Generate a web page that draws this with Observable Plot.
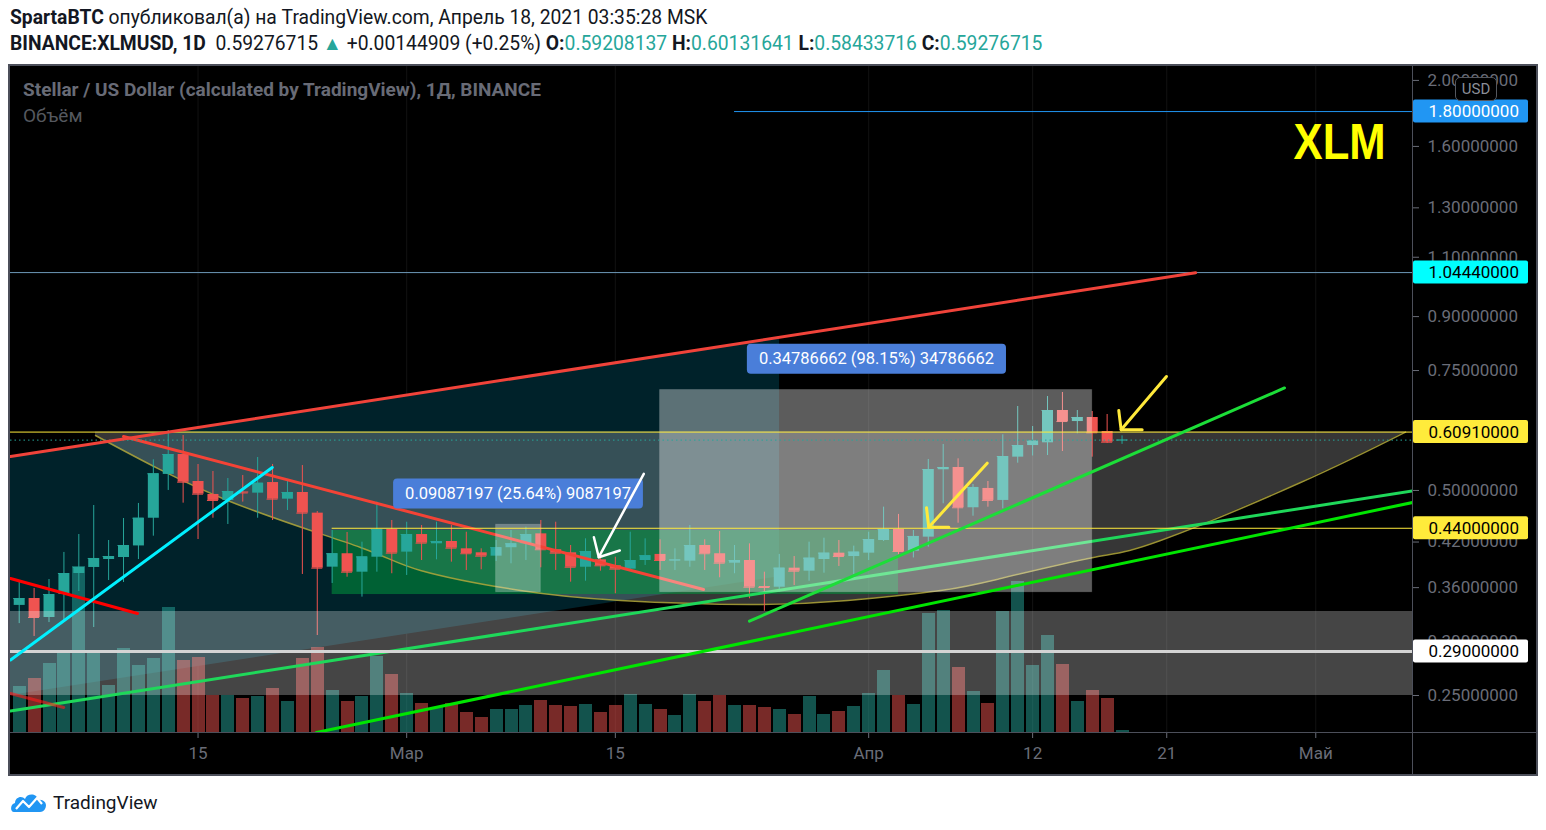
<!DOCTYPE html>
<html lang="ru">
<head>
<meta charset="utf-8">
<title>XLMUSD</title>
<script src="https://cdn.jsdelivr.net/npm/d3@7"></script>
<script src="https://cdn.jsdelivr.net/npm/@observablehq/plot@0.6"></script>
<style>
html,body{margin:0;padding:0;background:#fff;}
body{width:1546px;height:830px;position:relative;overflow:hidden;font-family:Roboto,"Open Sans",sans-serif;color:#131722;}
.hdr{position:absolute;left:10px;font-size:19.3px;white-space:nowrap;line-height:22px;}
#hdr1{top:7px}
#hdr2{top:33px}
.up{color:#26a69a}
#chart{position:absolute;left:8px;top:64px;width:1526px;height:708px;border:2px solid #4c4f5a;background:#000;overflow:hidden}
#chart svg{position:absolute;left:0;top:0;background:transparent !important;font-family:Roboto,sans-serif}
.ov{position:absolute;white-space:nowrap}
#ttl{left:13px;top:12px;font-size:19px;font-weight:bold;color:#686b76}
#volt{left:13px;top:38px;font-size:19px;color:#55585f}
#usd{left:1445px;top:11px;width:40px;height:22px;border:1px solid #55585f;border-radius:5px;background:#000;color:#8b8e98;font-size:15px;text-align:center;line-height:22px}
#vsep{left:1402px;top:0;width:1px;height:708px;background:#4c4f5a}
#hsep{left:0;top:666px;width:1526px;height:1px;background:#4c4f5a}
#foot{position:absolute;left:10px;top:790px;display:flex;align-items:center;gap:5px;font-size:19px;color:#131722}
</style>
</head>
<body>
<div class="hdr" id="hdr1"><b>SpartaBTC</b> опубликовал(а) на TradingView.com, Апрель 18, 2021 03:35:28 MSK</div>
<div class="hdr" id="hdr2"></div>
<div id="chart"></div>
<div id="foot">
  <svg width="38" height="24" viewBox="0 0 38 24"><path d="M4 22 C0 22 0 14 5 13 C5 7 12 5 15 9 C17 3 27 3 28 10 C34 9 38 14 35 19 C34 21 32 22 30 22 Z" fill="#2196f3"/><polyline points="6,19 13,11 19,17 27,8 32,14" fill="none" stroke="#fff" stroke-width="2.2" stroke-linejoin="round"/></svg>
  <span>TradingView</span>
</div>
<script>
// ---------- header values ----------
const symbolName = "BINANCE:XLMUSD, 1D";
const lastPrice = "0.59276715";
const change = "+0.00144909 (+0.25%)";
const ohlcHeader = [["O", "0.59208137"], ["H", "0.60131641"], ["L", "0.58433716"], ["C", "0.59276715"]];

// ---------- daily candles, first candle = 2021-02-03 ----------
const opens = [0.339,0.347,0.3254,0.3517,0.3776,0.3854,0.3959,0.3986,0.4145,0.4552,
  0.5279,0.5646,0.5154,0.4933,0.4834,0.4975,0.4955,0.5136,0.4855,0.4966,
  0.4631,0.3858,0.4037,0.3793,0.3990,0.4382,0.4059,0.4308,0.4175,0.4208,
  0.4105,0.4050,0.4004,0.4120,0.4175,0.4318,0.4092,0.4050,0.3857,0.3955,
  0.3876,0.3832,0.3946,0.4028,0.3940,0.3937,0.4151,0.4037,0.3910,0.3946,
  0.3614,0.3605,0.3845,0.3806,0.3959,0.4045,0.3999,0.4045,0.4222,0.4382,
  0.4072,0.4270,0.5362,0.5404,0.4716,0.5034,0.4834,0.5596,0.5820,0.5874,
  0.6552,0.6312,0.6399,0.6103,0.59208];
const highs = [0.3663,0.3589,0.3700,0.4055,0.4308,0.4752,0.4222,0.4548,0.4785,0.5546,
  0.6124,0.6021,0.5459,0.5331,0.5206,0.5259,0.5589,0.5459,0.5171,0.5440,
  0.4657,0.4367,0.4338,0.4198,0.4807,0.4517,0.4491,0.4441,0.4491,0.4441,
  0.4342,0.4105,0.4222,0.4367,0.4416,0.4517,0.4491,0.4151,0.4246,0.4059,
  0.3990,0.4342,0.4246,0.4232,0.4105,0.4441,0.4232,0.4352,0.4151,0.4174,
  0.3793,0.4028,0.3999,0.4198,0.4255,0.4222,0.4142,0.4342,0.4726,0.4611,
  0.4367,0.5552,0.5841,0.5565,0.5102,0.5154,0.6036,0.6641,0.6207,0.6869,
  0.6963,0.6552,0.6530,0.6464,0.60132];
const lows = [0.3188,0.3052,0.3199,0.3221,0.3553,0.3146,0.3688,0.3663,0.3959,0.4284,
  0.5000,0.4790,0.4236,0.4552,0.4457,0.4807,0.4552,0.4517,0.4673,0.3764,
  0.3062,0.3651,0.3729,0.3486,0.3793,0.3773,0.3751,0.3946,0.3955,0.3924,
  0.3815,0.3824,0.3933,0.3902,0.3946,0.3850,0.3815,0.3667,0.3679,0.3806,
  0.3526,0.3815,0.3880,0.3815,0.3815,0.3857,0.3815,0.3722,0.3773,0.3467,
  0.3324,0.3545,0.3626,0.3679,0.3780,0.3867,0.3764,0.3946,0.4208,0.4023,
  0.3980,0.4128,0.4780,0.4476,0.4583,0.4725,0.4700,0.5483,0.5618,0.5627,
  0.5704,0.6056,0.5596,0.5861,0.58434];
const closes = [0.3470,0.3254,0.3517,0.3776,0.3854,0.3973,0.3999,0.4151,0.4552,0.5290,
  0.5646,0.5142,0.4938,0.4834,0.4983,0.4958,0.5124,0.4855,0.4966,0.4631,
  0.3845,0.4037,0.3793,0.3994,0.4382,0.4045,0.4308,0.4184,0.4208,0.4114,
  0.4037,0.4004,0.4120,0.4175,0.4308,0.4092,0.4045,0.3857,0.4068,0.3876,
  0.3832,0.3946,0.4010,0.3946,0.3953,0.4151,0.4037,0.3910,0.3946,0.3605,
  0.3602,0.3845,0.3806,0.3977,0.4045,0.3999,0.4059,0.4236,0.4382,0.4068,
  0.4280,0.5367,0.5404,0.4716,0.5051,0.4834,0.5608,0.5820,0.5908,0.6552,
  0.6312,0.6399,0.6076,0.5886,0.59277];
// volume, relative units
const volumes = [46,54,69,79,166,81,47,84,67,74,
  125,72,75,37,37,34,36,44,31,74,
  85,42,31,36,76,58,39,29,25,29,
  20,15,23,23,27,32,27,26,28,20,
  27,38,28,23,17,38,31,37,27,27,
  25,23,18,36,18,21,26,39,62,37,
  28,119,122,65,41,29,121,151,67,97,
  68,31,42,34,2];

// ---------- axes ----------
const xTickDays = [12, 26, 40, 57, 68, 77, 87];           // days after 2021-02-03
const xTickLabels = ["15", "Мар", "15", "Апр", "12", "21", "Май"];
const yTicks = [0.25, 0.30, 0.36, 0.42, 0.50, 0.60, 0.75, 0.90, 1.10, 1.30, 1.60, 2.00];
const xRangeDays = [-0.584, 93.49];
const yRange = [0.2206, 2.0963];

// ---------- drawings: [dayIndex, price] ----------
const tealChannel = [[-0.584, 0.25, 0.5608], [51.02, 0.3736, 0.8384]]; // [day, bottom, top]
const redTop = [[-0.584, 0.5608], [78.94, 1.044]];
const redDesc = [[7.0, 0.6000], [45.92, 0.3577]];
const redShort1 = [[-0.584, 0.3713], [7.94, 0.3299]];
const redShort2 = [[-0.584, 0.2517], [2.99, 0.2401]];
const cyanLine = [[-0.584, 0.2819], [16.98, 0.5404]];
const greenA = [[-0.584, 0.2372], [93.49, 0.4992]];
const greenB = [[19.95, 0.2206], [93.49, 0.4800]];
const greenC = [[49.0, 0.3214], [84.9, 0.7071]];
const arcPts = [[5.12,0.6021],[13.98,0.4834],[22.90,0.4124],[26.93,0.3815],[33.64,0.3565],[40.35,0.3447],
  [49.07,0.3401],[55.58,0.3447],[61.82,0.3565],[65.85,0.3713],[72.08,0.3986],[76.58,0.4222],[85.98,0.5136],[93.02,0.6091]];
const arcChord = 0.6091;
const zoneBand = {d1: -0.584, d2: 93.49, p1: 0.25, p2: 0.3321};
const greenBox = {d1: 21, d2: 59, p1: 0.3517, p2: 0.4367};
const rangeSmall = {d1: 32, d2: 35, p1: 0.35442, p2: 0.44529};
const rangeBig = {d1: 43, d2: 72, p1: 0.35442, p2: 0.70229};
const rangeLabels = [[33.47, 0.44529, "0.09087197 (25.64%) 9087197"], [57.52, 0.70229, "0.34786662 (98.15%) 34786662"]];
const hLevels = [
  {p: 0.6091, from: -0.584, color: "#ffeb3b", w: 1},
  {p: 0.44, from: 21, color: "#ffeb3b", w: 1},
  {p: 1.0444, from: -0.584, color: "#6d98b8", w: 1},
  {p: 1.8, from: 48, color: "#2196f3", w: 1},
  {p: 0.29, from: -0.584, color: "#d4d4d4", w: 3}
];
const lastClose = 0.59277;
const whiteArrow = {shaft: [[41.91,0.5290],[38.89,0.3990]], head: [[38.56,0.4269],[38.89,0.3990],[40.30,0.4082]]};
const yellowArrow1 = {shaft: [[64.95,0.5483],[61.03,0.4416]], head: [[60.88,0.4716],[61.03,0.4416],[62.38,0.4416]]};
const yellowArrow2 = {shaft: [[76.98,0.7350],[73.94,0.6139]], head: [[73.78,0.6552],[73.94,0.6139],[75.35,0.6139]]};
const xlmLabel = [[88.6, 1.6166, "XLM"]];
const priceTags = [
  {price: 1.8, text: "1.80000000", bg: "#2196f3", fg: "#ffffff"},
  {price: 1.0444, text: "1.04440000", bg: "#00ffff", fg: "#000000"},
  {price: 0.6091, text: "0.60910000", bg: "#ffeb3b", fg: "#000000"},
  {price: 0.44, text: "0.44000000", bg: "#ffeb3b", fg: "#000000"},
  {price: 0.29, text: "0.29000000", bg: "#ffffff", fg: "#000000"}
];

// ---------- build ----------
document.getElementById("hdr2").innerHTML =
  `<b>${symbolName}</b>&nbsp; ${lastPrice} <span class="up">▲</span> ${change} ` +
  ohlcHeader.map(([k, v]) => `<b>${k}:</b><span class="up">${v}</span>`).join(" ");

const T0 = Date.UTC(2021, 1, 3), DAY = 864e5;
const day = i => new Date(T0 + i * DAY);
const UP = "#26a69a", DOWN = "#ef5350";
const candles = opens.map((o, i) => ({i, date: day(i), o, h: highs[i], l: lows[i], c: closes[i], v: volumes[i], up: closes[i] >= o}));
const tickLabel = new Map(xTickDays.map((d, k) => [+day(d), xTickLabels[k]]));
const xDomain = xRangeDays.map(day);
const X = d => day(d[0]), Y = d => d[1];

const common = {width: 1526, height: 708, marginTop: 0, marginBottom: 42, marginLeft: 0, marginRight: 124,
  style: {background: "transparent", fontFamily: "Roboto", fontSize: "16px"}};

const L1 = Plot.plot({...common,
  x: {type: "utc", domain: xDomain}, y: {type: "log", domain: yRange},
  marks: [
    Plot.gridX(xTickDays.map(day), {stroke: "#ffffff", strokeOpacity: 0.07}),
    Plot.areaY(tealChannel, {x: X, y1: d => d[1], y2: d => d[2], fill: "#00222a"}),
    Plot.axisY(yTicks, {anchor: "right", tickSize: 6, tickPadding: 9, tickFormat: d => d.toFixed(8), color: "#6a6d78", fontSize: 17, label: null}),
    Plot.axisX(xTickDays.map(day), {anchor: "bottom", tickSize: 6, tickPadding: 8, tickFormat: d => tickLabel.get(+d), color: "#6a6d78", fontSize: 17, label: null})
  ]});

const L2 = Plot.plot({...common,
  x: {type: "utc", domain: xDomain, axis: null}, y: {domain: [0, 666], axis: null},
  marks: [
    Plot.ruleX(candles, {x: "date", y1: 0, y2: "v", stroke: d => d.up ? UP : DOWN, strokeOpacity: 0.5, strokeWidth: 13, shapeRendering: "crispEdges"})
  ]});

const seg = (data, o) => Plot.line(data, {x: X, y: Y, clip: true, ...o});
const box = (b, o) => Plot.rect([b], {x1: d => day(d.d1), x2: d => day(d.d2), y1: "p1", y2: "p2", ...o});
const arrow = (a, color, w) => [seg(a.shaft, {stroke: color, strokeWidth: w, strokeLinecap: "round"}),
  seg(a.head, {stroke: color, strokeWidth: w, strokeLinecap: "round", strokeLinejoin: "round"})];

const L3 = Plot.plot({...common,
  x: {type: "utc", domain: xDomain, axis: null}, y: {type: "log", domain: yRange, axis: null},
  marks: [
    Plot.areaY(arcPts, {x: X, y1: Y, y2: arcChord, curve: "natural", fill: "#ffffff", fillOpacity: 0.21}),
    box(greenBox, {fill: "#00963c", fillOpacity: 0.55}),
    Plot.line(arcPts, {x: X, y: Y, curve: "natural", stroke: "#b3a93c", strokeWidth: 1.5, strokeOpacity: 0.85}),
    Plot.ruleX(candles, {x: "date", y1: "l", y2: "h", stroke: d => d.up ? UP : DOWN, strokeWidth: 1}),
    Plot.ruleX(candles, {x: "date", y1: "o", y2: "c", stroke: d => d.up ? UP : DOWN, strokeWidth: 11}),
    Plot.ruleY(candles, {y: "c", x1: d => day(d.i - 0.37), x2: d => day(d.i + 0.37), stroke: d => d.up ? UP : DOWN, strokeWidth: 1}),
    seg(redDesc, {stroke: "#f44336", strokeWidth: 3}),
    box(zoneBand, {fill: "#ffffff", fillOpacity: 0.27}),
    seg(greenA, {stroke: "#1fd85a", strokeWidth: 3}),
    box(rangeSmall, {fill: "#ffffff", fillOpacity: 0.3, stroke: "#ffffff", strokeOpacity: 0.15}),
    box(rangeBig, {fill: "#ffffff", fillOpacity: 0.36, stroke: "#ffffff", strokeOpacity: 0.12}),
    ...hLevels.map(h => Plot.ruleY([h], {y: "p", x1: d => day(d.from), x2: xDomain[1], stroke: h.color, strokeWidth: h.w})),
    Plot.ruleY([lastClose], {x1: xDomain[0], x2: xDomain[1], stroke: UP, strokeDasharray: "1.5,3"}),
    seg(redTop, {stroke: "#f0433a", strokeWidth: 3}),
    seg(redShort1, {stroke: "#ff0000", strokeWidth: 3}),
    seg(redShort2, {stroke: "#ff1a1a", strokeWidth: 3, strokeOpacity: 0.6}),
    seg(cyanLine, {stroke: "#00f0ff", strokeWidth: 3}),
    seg(greenB, {stroke: "#00e600", strokeWidth: 3}),
    seg(greenC, {stroke: "#1cde38", strokeWidth: 3}),
    Plot.text(rangeLabels, {x: X, y: Y, text: d => d[2], dy: -31, fill: "#ffffff", fontSize: 16.5}),
    ...arrow(whiteArrow, "#ffffff", 2.5),
    ...arrow(yellowArrow1, "#ffe93b", 3),
    ...arrow(yellowArrow2, "#ffe93b", 3),
    Plot.text(xlmLabel, {x: X, y: Y, text: d => d[2], fill: "#ffff00", fontSize: 50, fontWeight: "bold", fontFamily: "Liberation Sans, Arial, sans-serif"}),
    Plot.text(priceTags, {y: "price", text: "text", frameAnchor: "right", dx: 16, textAnchor: "start", fill: "fg", fontSize: 17})
  ]});

const chart = document.getElementById("chart");
chart.append(L1, L2, L3);
chart.insertAdjacentHTML("beforeend",
  `<div class="ov" id="vsep"></div><div class="ov" id="hsep"></div>
   <div class="ov" id="ttl">Stellar / US Dollar (calculated by TradingView), 1Д, BINANCE</div>
   <div class="ov" id="volt">Объём</div>
   <div class="ov" id="usd">USD</div>`);

// label backgrounds (decoration behind text labels)
const NS = "http://www.w3.org/2000/svg";
function boxBehind(svg, content, make) {
  try {
    const t = Array.from(svg.querySelectorAll("text")).find(e => e.textContent.trim() === content);
    if (!t) return;
    const sr = svg.getBoundingClientRect(), r = t.getBoundingClientRect();
    const spec = make(r.left - sr.left, r.top - sr.top, r.width, r.height);
    const rect = document.createElementNS(NS, "rect");
    for (const [a, v] of Object.entries(spec)) rect.setAttribute(a, String(v));
    let g = t.parentNode;
    while (g.parentNode && g.parentNode !== svg) g = g.parentNode;
    svg.insertBefore(rect, g);
  } catch (e) { console.error(e); }
}
priceTags.forEach(tag => boxBehind(L3, tag.text, (x, y, w, h) => ({x: 1403, y: y + h / 2 - 11.5, width: 115, height: 23, rx: 2, fill: tag.bg})));
rangeLabels.forEach(l => boxBehind(L3, l[2], (x, y, w, h) => ({x: x - 12, y: y + h / 2 - 15, width: w + 24, height: 30, rx: 4, fill: "#4a7ed9"})));
try {
  const xt = Array.from(L3.querySelectorAll("text")).find(e => e.textContent.trim() === "XLM");
  if (xt) { xt.setAttribute("textLength", "92"); xt.setAttribute("lengthAdjust", "spacingAndGlyphs"); }
} catch (e) {}
</script>
</body>
</html>
